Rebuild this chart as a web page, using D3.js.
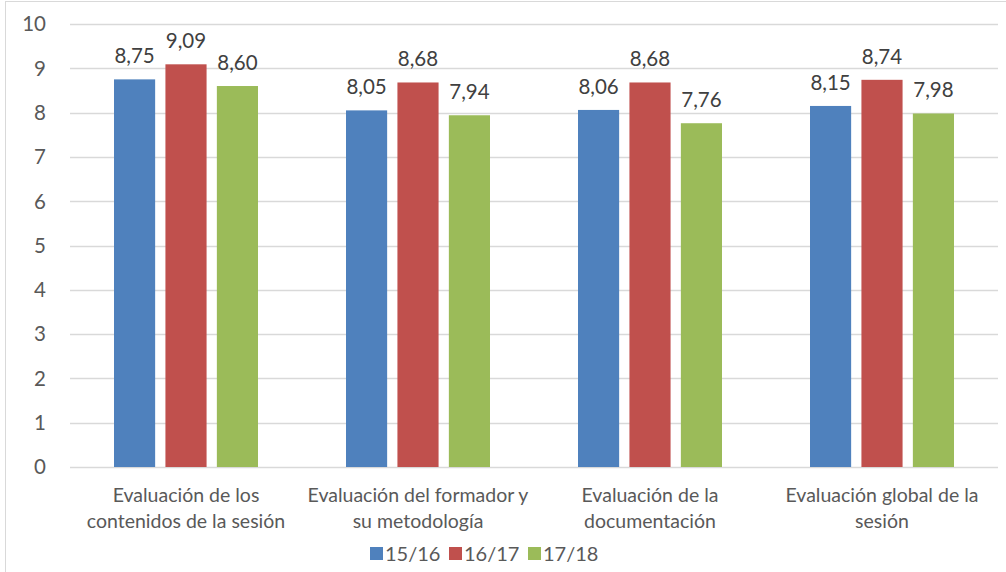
<!DOCTYPE html>
<html>
<head>
<meta charset="utf-8">
<script src="https://cdn.jsdelivr.net/npm/d3@7"></script>
<style>
  body { margin: 0; background: #fff; }
  svg { display: block; font-family: Lato, "Open Sans", sans-serif; }
</style>
</head>
<body>
<svg width="1006" height="572"></svg>
<script>
// categories + series values
const categories = [
  ["Evaluación de los", "contenidos de la sesión"],
  ["Evaluación del formador y", "su metodología"],
  ["Evaluación de la", "documentación"],
  ["Evaluación global de la", "sesión"]
];
const series = ["15/16", "16/17", "17/18"];
const colors = ["#4f81bd", "#c0504d", "#9bbb59"];
const v1516 = [8.75, 8.05, 8.06, 8.15];
const v1617 = [9.09, 8.68, 8.68, 8.74];
const v1718 = [8.60, 7.94, 7.76, 7.98];
const yTicks = [0, 1, 2, 3, 4, 5, 6, 7, 8, 9, 10];

const values = [v1516, v1617, v1718];
const svg = d3.select("svg");

// chart outline
svg.append("rect")
  .attr("x", 5.5).attr("y", 1.5)
  .attr("width", 1100).attr("height", 700)
  .attr("fill", "none")
  .attr("stroke", "#d9d9d9");

const plotLeft = 70, plotRight = 998, plotTop = 24, plotBottom = 467;

const x0 = d3.scaleBand()
  .domain(d3.range(categories.length))
  .range([plotLeft, plotRight]);

const x1 = d3.scaleBand()
  .domain(series)
  .range([-72, 72])
  .paddingInner(0.2);

const y = d3.scaleLinear().domain([0, 10]).range([plotBottom, plotTop]);

// gridlines
svg.append("g")
  .selectAll("line")
  .data(yTicks)
  .enter().append("line")
  .attr("x1", plotLeft).attr("x2", plotRight)
  .attr("y1", d => Math.round(y(d)) + 0.5)
  .attr("y2", d => Math.round(y(d)) + 0.5)
  .attr("stroke", "#d9d9d9")
  .attr("stroke-width", 1.3);

// y tick labels
svg.append("g")
  .selectAll("text")
  .data(yTicks)
  .enter().append("text")
  .attr("x", 46)
  .attr("y", d => y(d))
  .attr("dy", "0.36em")
  .attr("text-anchor", "end")
  .attr("fill", "#595959")
  .attr("font-size", 20.5)
  .text(d => d);

// bars
const groups = svg.append("g")
  .selectAll("g")
  .data(series)
  .enter().append("g")
  .attr("fill", (d, i) => colors[i]);

groups.selectAll("rect")
  .data((s, i) => values[i].map((v, j) => ({ s, v, j })))
  .enter().append("rect")
  .attr("x", d => x0(d.j) + x0.bandwidth() / 2 + x1(d.s))
  .attr("y", d => y(d.v))
  .attr("width", x1.bandwidth())
  .attr("height", d => y(0) - y(d.v));

// value labels
const fmt = d3.format(".2f");
groups.selectAll("text")
  .data((s, i) => values[i].map((v, j) => ({ s, v, j })))
  .enter().append("text")
  .attr("x", d => x0(d.j) + x0.bandwidth() / 2 + x1(d.s) + x1.bandwidth() / 2)
  .attr("y", d => y(d.v) - 16)
  .attr("text-anchor", "middle")
  .attr("fill", "#404040")
  .attr("font-size", 20.5)
  .text(d => fmt(d.v).replace(".", ","));

// category labels
const cat = svg.append("g")
  .selectAll("text")
  .data(categories)
  .enter().append("text")
  .attr("x", (d, i) => x0(i) + x0.bandwidth() / 2)
  .attr("y", 502)
  .attr("text-anchor", "middle")
  .attr("fill", "#595959")
  .attr("font-size", 19.5);

cat.selectAll("tspan")
  .data(d => d)
  .enter().append("tspan")
  .attr("x", function () { return d3.select(this.parentNode).attr("x"); })
  .attr("dy", (d, i) => i === 0 ? 0 : 26)
  .text(d => d);

// legend
const legendX = [370, 449, 528];
const legend = svg.append("g")
  .selectAll("g")
  .data(series)
  .enter().append("g")
  .attr("transform", (d, i) => `translate(${legendX[i]},547)`);

legend.append("rect")
  .attr("width", 13).attr("height", 13)
  .attr("fill", (d, i) => colors[i]);

legend.append("text")
  .attr("x", 15)
  .attr("y", 13.5)
  .attr("fill", "#595959")
  .attr("font-size", 20)
  .text(d => d);
</script>
</body>
</html>
